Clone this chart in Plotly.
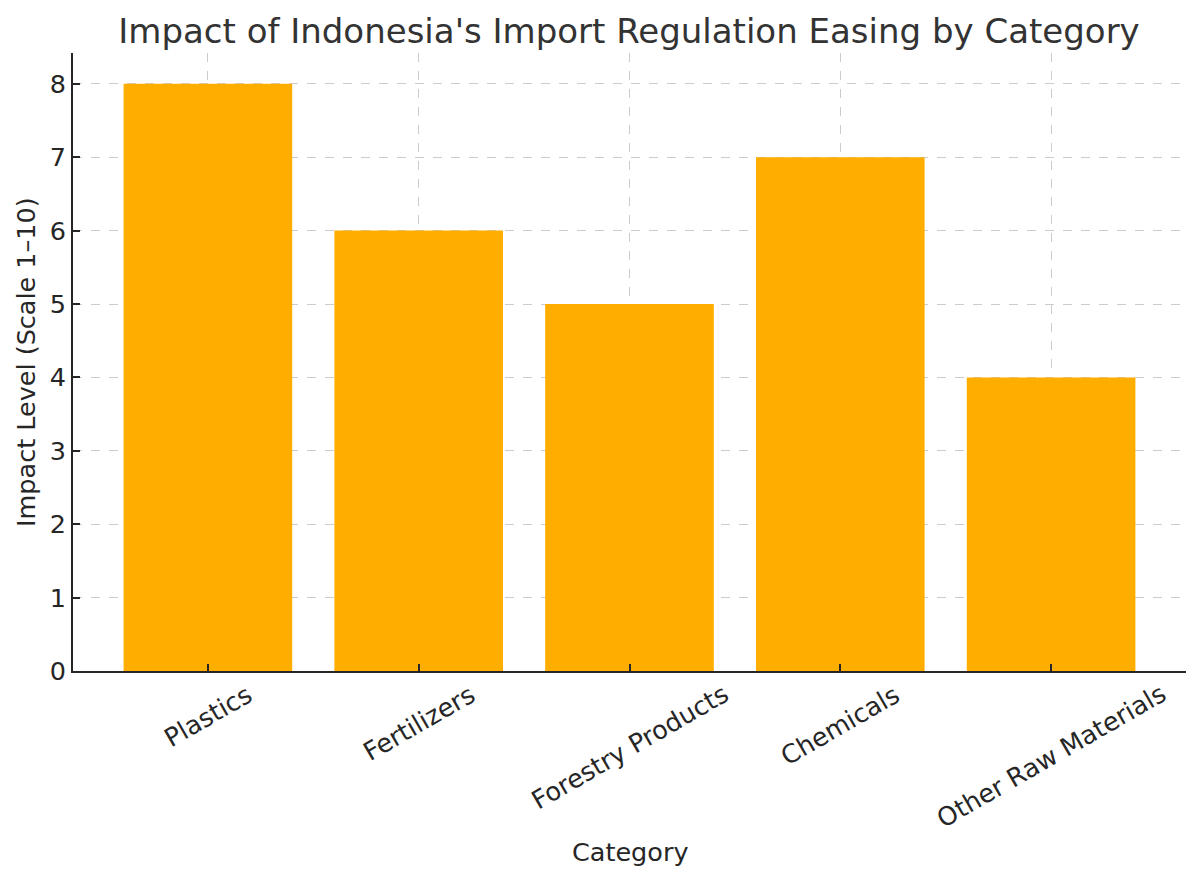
import plotly.graph_objects as go

categories = ["Plastics", "Fertilizers", "Forestry Products", "Chemicals", "Other Raw Materials"]
impact = [8, 6, 5, 7, 4]
y_ticks = [0, 1, 2, 3, 4, 5, 6, 7, 8]

FONT = "DejaVu Sans"
TXT = "#262626"
W, H = 1192, 872  # page has an 8px body margin

fig = go.Figure()
fig.add_trace(go.Bar(x=categories, y=impact, marker=dict(color="#FFAE00", line=dict(width=0)),
                     width=0.8, showlegend=False))

annotations = []
for c in categories:
    annotations.append(dict(x=c, xref="x", y=0, yref="paper", yanchor="top", xanchor="center",
                            yshift=-5, text=c, textangle=-30, showarrow=False,
                            font=dict(family=FONT, size=25.5, color=TXT)))
annotations.append(dict(x=0.5, xref="paper", y=0, yref="paper", yanchor="middle", xanchor="center",
                        yshift=-181, text="Category", showarrow=False,
                        font=dict(family=FONT, size=25.5, color=TXT)))
annotations.append(dict(x=0, xref="paper", y=0.5, yref="paper", yanchor="middle", xanchor="center",
                        xshift=-47, text="Impact Level (Scale 1–10)", textangle=-90, showarrow=False,
                        font=dict(family=FONT, size=25.5, color=TXT)))

fig.update_layout(
    width=W, height=H,
    margin=dict(l=65, r=14, t=45, b=209),
    paper_bgcolor="white", plot_bgcolor="white",
    title=dict(text="Impact of Indonesia's Import Regulation Easing by Category",
               x=621 / W, xanchor="center", y=1 - 23 / H, yanchor="middle",
               font=dict(family=FONT, size=34, color="#333333")),
    annotations=annotations,
    bargap=0.2,
)
fig.update_xaxes(range=[-0.64, 4.64], showticklabels=False, ticks="inside", ticklen=7, tickwidth=1.5,
                 tickcolor=TXT, showline=True, linecolor=TXT, linewidth=2,
                 showgrid=True, gridcolor="#cccccc", griddash="dash", gridwidth=1,
                 layer="above traces", zeroline=False)
fig.update_yaxes(range=[0, 8.42], tickvals=y_ticks, ticks="inside", ticklen=7, tickwidth=1.5,
                 tickcolor=TXT, showline=True, linecolor=TXT, linewidth=2,
                 showgrid=True, gridcolor="#cccccc", griddash="dash", gridwidth=1,
                 layer="above traces", zeroline=False,
                 tickfont=dict(family=FONT, size=25.5, color=TXT))

fig.write_html("out.html")
